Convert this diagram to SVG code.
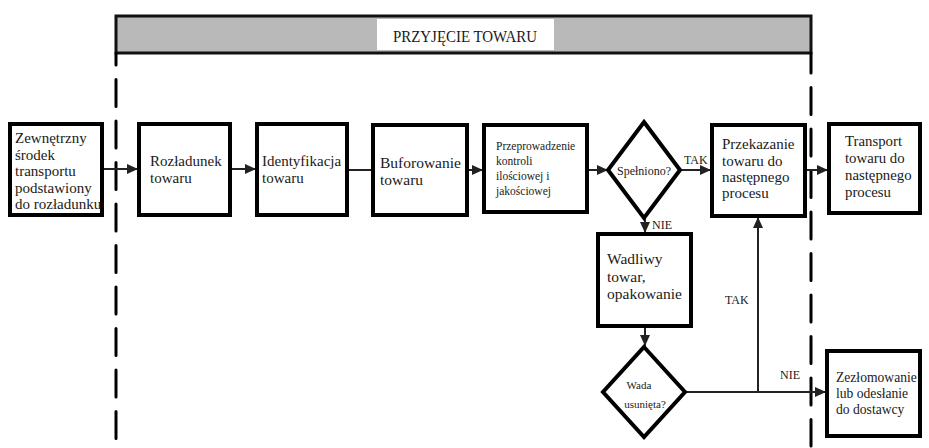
<svg xmlns="http://www.w3.org/2000/svg" width="929" height="448" viewBox="0 0 929 448">
<style>
.box{fill:#fff;stroke:#000;stroke-width:4}
.dia{fill:#fff;stroke:#000;stroke-width:4;stroke-linejoin:miter}
text{font-family:'Liberation Serif','Times New Roman',serif;fill:#1a1a1a}
.c{stroke:#222;stroke-width:2;fill:none}
.dash{stroke:#000;stroke-width:3;stroke-dasharray:27 14.5;stroke-linecap:round}
</style>
<defs>
<marker id="ah" markerUnits="userSpaceOnUse" markerWidth="12" markerHeight="12" refX="11" refY="6" orient="auto">
<path d="M0,1 L11,6 L0,11 z" fill="#222"/>
</marker>
</defs>
<rect width="929" height="448" fill="#fff"/>
<g id="header">
<rect x="116" y="16" width="695" height="37" fill="#b9b9b9" stroke="#111" stroke-width="3"/>
<rect x="377" y="19" width="177" height="31" fill="#fff"/>
<text x="465" y="42" font-size="16" text-anchor="middle" textLength="144" lengthAdjust="spacingAndGlyphs">PRZYJĘCIE TOWARU</text>
</g>
<g id="swimlanes">
<line class="dash" x1="116" y1="53" x2="116" y2="440" stroke-dashoffset="15"/>
<line class="dash" x1="811" y1="53" x2="811" y2="446" stroke-dashoffset="7"/>
</g>
<g id="connectors">
<line class="c" x1="102" y1="169" x2="138" y2="169" marker-end="url(#ah)"/>
<line class="c" x1="230" y1="169" x2="256" y2="169" marker-end="url(#ah)"/>
<line class="c" x1="347" y1="170" x2="372" y2="170"/>
<line class="c" x1="467" y1="170" x2="483" y2="170" marker-end="url(#ah)"/>
<line class="c" x1="587" y1="170" x2="608" y2="170" marker-end="url(#ah)"/>
<line class="c" x1="680" y1="170" x2="711" y2="170" marker-end="url(#ah)"/>
<line class="c" x1="805" y1="170" x2="828" y2="170" marker-end="url(#ah)"/>
<line class="c" x1="645" y1="218" x2="645" y2="233" marker-end="url(#ah)"/>
<line class="c" x1="645" y1="327" x2="645" y2="346" marker-end="url(#ah)"/>
<line class="c" x1="685" y1="392" x2="826" y2="392" marker-end="url(#ah)"/>
<line class="c" x1="758" y1="392" x2="758" y2="217" marker-end="url(#ah)"/>
<text x="684" y="164" font-size="12">TAK</text>
<text x="652" y="229" font-size="12">NIE</text>
<text x="725" y="304" font-size="12">TAK</text>
<text x="780" y="379" font-size="12">NIE</text>
</g>
<g id="n1">
<rect class="box" x="10" y="124" width="92" height="91" stroke-width="5"/>
<text font-size="15"><tspan x="15" y="143">Zewnętrzny</tspan><tspan x="15" y="159.5">środek</tspan><tspan x="15" y="176">transportu</tspan><tspan x="15" y="192.5">podstawiony</tspan><tspan x="15" y="209">do rozładunku</tspan></text>
</g>
<g id="n2">
<rect class="box" x="139" y="124" width="91" height="91"/>
<text font-size="15"><tspan x="150" y="166">Rozładunek</tspan><tspan x="150" y="183">towaru</tspan></text>
</g>
<g id="n3">
<rect class="box" x="257" y="124" width="90" height="91"/>
<text font-size="15"><tspan x="262" y="166">Identyfikacja</tspan><tspan x="262" y="183">towaru</tspan></text>
</g>
<g id="n4">
<rect class="box" x="373" y="125" width="94" height="90"/>
<text font-size="15.5"><tspan x="380" y="168">Buforowanie</tspan><tspan x="380" y="185">towaru</tspan></text>
</g>
<g id="n5">
<rect class="box" x="484" y="125" width="103" height="87"/>
<text font-size="11.5"><tspan x="496" y="150">Przeprowadzenie</tspan><tspan x="496" y="165">kontroli</tspan><tspan x="496" y="180">ilościowej i</tspan><tspan x="496" y="195">jakościowej</tspan></text>
</g>
<g id="d1">
<polygon class="dia" points="644,122 680,170 644,218 608,170"/>
<text font-size="12" x="644" y="175" text-anchor="middle">Spełniono?</text>
</g>
<g id="n6">
<rect class="box" x="712" y="125" width="93" height="91"/>
<text font-size="15"><tspan x="722" y="149">Przekazanie</tspan><tspan x="722" y="166">towaru do</tspan><tspan x="722" y="182">następnego</tspan><tspan x="722" y="198">procesu</tspan></text>
</g>
<g id="n7">
<rect class="box" x="829" y="124" width="91" height="89"/>
<text font-size="14.8"><tspan x="845" y="146">Transport</tspan><tspan x="845" y="163">towaru do</tspan><tspan x="845" y="180">następnego</tspan><tspan x="845" y="197">procesu</tspan></text>
</g>
<g id="n8">
<rect class="box" x="598" y="234" width="93" height="92"/>
<text font-size="15.5"><tspan x="607" y="264">Wadliwy</tspan><tspan x="607" y="282">towar,</tspan><tspan x="607" y="299">opakowanie</tspan></text>
</g>
<g id="d2">
<polygon class="dia" points="644,347 685,392 644,437 603,392"/>
<text font-size="11" x="639" y="389" text-anchor="middle">Wada</text>
<text font-size="11" x="645" y="408" text-anchor="middle">usunięta?</text>
</g>
<g id="n9">
<rect class="box" x="827" y="351" width="93" height="85"/>
<text font-size="13.6"><tspan x="836" y="382">Zezłomowanie</tspan><tspan x="836" y="398">lub odesłanie</tspan><tspan x="836" y="414">do dostawcy</tspan></text>
</g>
</svg>
